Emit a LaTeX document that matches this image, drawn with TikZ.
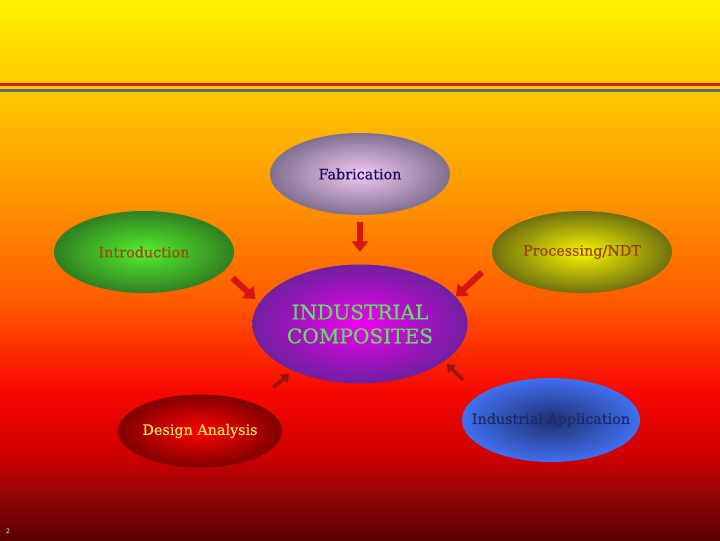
\documentclass[tikz,border=0pt]{standalone}
\usepackage{fontspec}
\setmainfont{DejaVu Serif}
\newfontfamily\topicfont[FakeBold=0.6]{DejaVu Serif}
\usepackage{tikz}
\usetikzlibrary{arrows.meta,shapes.geometric}

\definecolor{bgA}{HTML}{FFF200}
\definecolor{bgB}{HTML}{FFC800}
\definecolor{bgC}{HTML}{FF9400}
\definecolor{bgD}{HTML}{FF5C00}
\definecolor{bgE}{HTML}{F80800}
\definecolor{bgF}{HTML}{C80000}
\definecolor{bgG}{HTML}{8C0505}
\definecolor{bgH}{HTML}{580000}
\definecolor{rulered}{HTML}{D02010}
\definecolor{ruleblue}{HTML}{606880}
\definecolor{arrred}{HTML}{D81414}
\definecolor{arrdark}{HTML}{8E1414}

\begin{document}
\begin{tikzpicture}[
  x=0.025cm, y=-0.025cm,
  topic/.style={ellipse, draw=none, inner ysep=0pt, inner xsep=-0.5cm,
                font=\topicfont\fontsize{10.2}{12}\selectfont},
  pointer/.style={line width=4.3pt, color=arrred,
                  -{Triangle[width=11.5pt,length=7.5pt]}},
  faint/.style={line width=2.6pt, color=arrdark, opacity=0.85,
                -{Triangle[width=8pt,length=5.5pt]}}]

\useasboundingbox (0,0) rectangle (720,540);

% ================= backdrop ================================================
\foreach \ya/\yb/\ca/\cb in {0/90/bgA/bgB, 90/200/bgB/bgC, 200/300/bgC/bgD,
    300/390/bgD/bgE, 390/460/bgE/bgF, 460/500/bgF/bgG, 500/540/bgG/bgH}
  {\shade[top color=\ca, bottom color=\cb] (0,\ya) rectangle (720,\yb+0.6);}
\fill[rulered]  (0,82.5) rectangle (720,86);
\fill[ruleblue] (0,88.7) rectangle (720,91.5);

% ================= topics ==================================================
\node[topic, minimum width=4.5cm, minimum height=2.05cm,
      inner color={rgb,255:red,244;green,200;blue,244},
      outer color={rgb,255:red,128;green,112;blue,146},
      text={rgb,255:red,26;green,16;blue,96}] (fab) at (360,174) {Fabrication};
\node[topic, minimum width=4.5cm, minimum height=2.05cm,
      inner color={rgb,255:red,84;green,240;blue,48},
      outer color={rgb,255:red,48;green,128;blue,32},
      text={rgb,255:red,160;green,74;blue,16}] (intro) at (144,252) {Introduction};
\node[topic, minimum width=4.5cm, minimum height=2.05cm,
      inner color={rgb,255:red,246;green,246;blue,0},
      outer color={rgb,255:red,112;green,112;blue,16},
      text={rgb,255:red,160;green,64;blue,16}] (proc) at (582,252) {Processing/NDT};
\node[topic, minimum width=5.375cm, minimum height=2.975cm, align=center,
      inner color={rgb,255:red,240;green,0;blue,240},
      outer color={rgb,255:red,112;green,32;blue,160},
      text={rgb,255:red,96;green,224;blue,96},
      font=\topicfont\fontsize{14.3}{17}\selectfont] (comp) at (360,324)
  {INDUSTRIAL\\COMPOSITES};
\node[topic, minimum width=4.1cm, minimum height=1.825cm,
      inner color={rgb,255:red,255;green,0;blue,0},
      outer color={rgb,255:red,128;green,0;blue,0},
      text={rgb,255:red,240;green,224;blue,80}] (design) at (200,431) {Design Analysis};
\node[topic, minimum width=4.45cm, minimum height=2.1cm,
      inner color={rgb,255:red,32;green,48;blue,112},
      outer color={rgb,255:red,64;green,112;blue,240},
      text={rgb,255:red,28;green,42;blue,102}] (app) at (551,420) {Industrial Application};

% ================= arrows into the centre ==================================
\draw[pointer, shorten <=0.175cm, shorten >=0.31cm] (fab.south) -- (comp.north);
\draw[pointer, shorten <=0.27cm, shorten >=0.13cm] (intro.-13) -- (comp.168);
\draw[pointer, shorten <=0.41cm] (proc.-174) -- (comp.16);
\draw[faint, shorten <=0.62cm, shorten >=0.12cm] (design.27) -- (comp.-145);
\draw[faint, shorten <=0.55cm, shorten >=0.09cm] (app.161) -- (comp.-24);

\node[font=\fontsize{5}{6}\sffamily, text=white] (pg) at (8,531) {2};

\end{tikzpicture}
\end{document}
